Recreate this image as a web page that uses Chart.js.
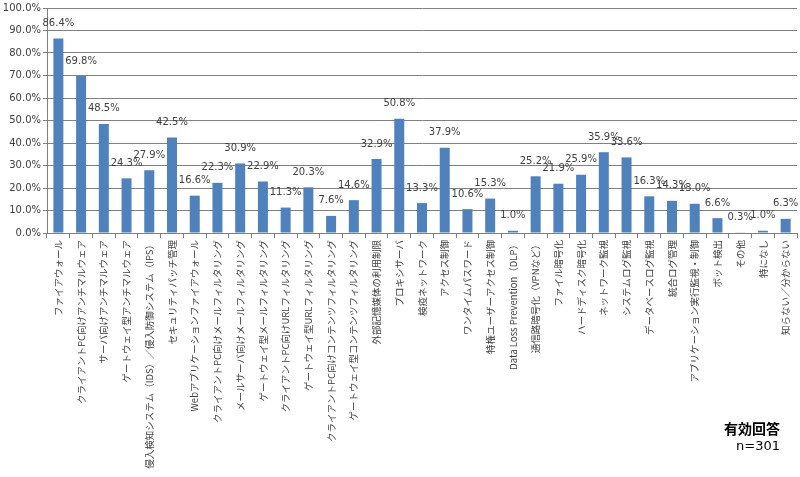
<!DOCTYPE html>
<html>
<head>
<meta charset="utf-8">
<script src="https://cdn.jsdelivr.net/npm/chart.js@4/dist/chart.umd.min.js"></script>
<style>
    body { margin: 0; background: #fff; }
    #wrap { position: relative; width: 800px; height: 477px; }
    #note { position: absolute; right: 20px; top: 418px; text-align: right; color: #000; }
    #note .t { font: bold 14px "Noto Sans CJK JP", sans-serif; line-height: 20px; }
    #note .n { font: 13px "DejaVu Sans", sans-serif; line-height: 16px; }
</style>
</head>
<body>
<div id="wrap">
    <canvas id="chart"></canvas>
    <div id="note"><div class="t">有効回答</div><div class="n">n=301</div></div>
</div>
<script>
const categories = [
    'ファイアウォール',
    'クライアントPC向けアンチマルウェア',
    'サーバ向けアンチマルウェア',
    'ゲートウェイ型アンチマルウェア',
    '侵入検知システム（IDS）／侵入防御システム（IPS）',
    'セキュリティパッチ管理',
    'Webアプリケーションファイアウォール',
    'クライアントPC向けメールフィルタリング',
    'メールサーバ向けメールフィルタリング',
    'ゲートウェイ型メールフィルタリング',
    'クライアントPC向けURLフィルタリング',
    'ゲートウェイ型URLフィルタリング',
    'クライアントPC向けコンテンツフィルタリング',
    'ゲートウェイ型コンテンツフィルタリング',
    '外部記憶媒体の利用制限',
    'プロキシサーバ',
    '検疫ネットワーク',
    'アクセス制御',
    'ワンタイムパスワード',
    '特権ユーザーアクセス制御',
    'Data Loss Prevention（DLP）',
    '通信路暗号化（VPNなど）',
    'ファイル暗号化',
    'ハードディスク暗号化',
    'ネットワーク監視',
    'システムログ監視',
    'データベースログ監視',
    '統合ログ管理',
    'アプリケーション実行監視・制御',
    'ボット検出',
    'その他',
    '特になし',
    '知らない／分からない'
];
const values = [
    86.4, 69.8, 48.5, 24.3, 27.9, 42.5, 16.6, 22.3, 30.9, 22.9, 11.3,
    20.3, 7.6, 14.6, 32.9, 50.8, 13.3, 37.9, 10.6, 15.3, 1.0, 25.2,
    21.9, 25.9, 35.9, 33.6, 16.3, 14.3, 13.0, 6.6, 0.3, 1.0, 6.3
];
const yTicks = [0, 10, 20, 30, 40, 50, 60, 70, 80, 90, 100];

// 棒の上に値ラベルを描く
const valueLabels = {
    id: 'valueLabels',
    afterDatasetsDraw(chart) {
        const ctx = chart.ctx;
        const meta = chart.getDatasetMeta(0);
        ctx.save();
        ctx.font = '10px "DejaVu Sans"';
        ctx.fillStyle = '#404040';
        ctx.textAlign = 'center';
        ctx.textBaseline = 'middle';
        meta.data.forEach((bar, i) => {
            ctx.fillText(values[i].toFixed(1) + '%', bar.x, bar.y - 15);
        });
        ctx.restore();
    }
};

new Chart(document.getElementById('chart'), {
    type: 'bar',
    data: {
        labels: categories,
        datasets: [{
            data: values,
            backgroundColor: '#4F81BD',
            barPercentage: 0.44,
            categoryPercentage: 1.0
        }]
    },
    options: {
        responsive: true,
        maintainAspectRatio: false,
        animation: false,
        layout: { padding: { top: 6, right: 3, left: 0, bottom: 0 } },
        plugins: {
            legend: { display: false },
            tooltip: { enabled: false }
        },
        scales: {
            x: {
                offset: true,
                grid: {
                    offset: true,
                    drawOnChartArea: false,
                    drawTicks: true,
                    tickLength: 5,
                    color: '#808080'
                },
                border: { color: '#808080' },
                ticks: {
                    autoSkip: false,
                    minRotation: 90,
                    maxRotation: 90,
                    padding: 2,
                    color: '#404040',
                    font: { family: '"Noto Sans CJK JP"', size: 9.5 }
                },
                afterFit(scale) { scale.height = 244; }
            },
            y: {
                min: 0,
                max: 100,
                afterBuildTicks(scale) { scale.ticks = yTicks.map(v => ({ value: v })); },
                grid: { color: '#808080', tickLength: 4 },
                border: { color: '#808080' },
                ticks: {
                    padding: 2,
                    color: '#404040',
                    font: { family: '"DejaVu Sans"', size: 10 },
                    callback: v => v.toFixed(1) + '%'
                },
                afterFit(scale) { scale.width = 47; }
            }
        }
    },
    plugins: [valueLabels]
});
</script>
</body>
</html>
